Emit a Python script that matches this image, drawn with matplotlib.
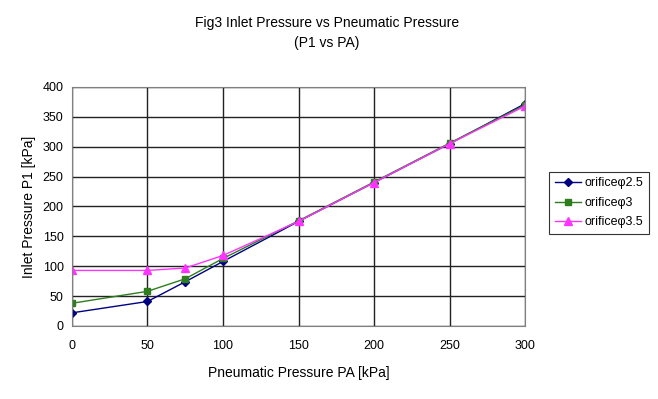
import matplotlib
matplotlib.use("Agg")
import matplotlib.pyplot as plt

plt.rcParams['font.family'] = ['Liberation Sans', 'DejaVu Sans']

pa = [0, 50, 75, 100, 150, 200, 250, 300]
p1_25 = [22, 41, 74, 108, 175, 240, 305, 372]
p1_3 = [38, 58, 79, 113, 176, 241, 306, 370]
p1_35 = [93, 93, 97, 118, 175, 240, 305, 368]

fig = plt.figure(figsize=(6.58, 3.99), dpi=100)
ax = fig.add_axes([0.1094, 0.183, 0.6885, 0.599])

ax.plot(pa, p1_25, color='#000080', marker='D', markersize=4, lw=1, label='orificeφ2.5')
ax.plot(pa, p1_3, color='#2E7D1E', marker='s', markersize=5, lw=1, label='orificeφ3')
ax.plot(pa, p1_35, color='#FF33FF', marker='^', markersize=6, lw=1, label='orificeφ3.5')

ax.set_xlim(0, 300)
ax.set_ylim(0, 400)
ax.set_xticks(range(0, 301, 50))
ax.set_yticks(range(0, 401, 50))
ax.grid(True, color='#222222', lw=1)
ax.set_axisbelow(True)
for s in ax.spines.values():
    s.set_color('#808080')
ax.tick_params(length=0, labelsize=9)
ax.tick_params(axis='x', pad=10)
ax.tick_params(axis='y', pad=6)

ax.set_xlabel('Pneumatic Pressure PA [kPa]', fontsize=10, labelpad=10)
ax.set_ylabel('Inlet Pressure P1 [kPa]', fontsize=10, labelpad=5)
fig.text(0.497, 0.943, 'Fig3 Inlet Pressure vs Pneumatic Pressure', ha='center', va='center', fontsize=10)
fig.text(0.497, 0.893, '(P1 vs PA)', ha='center', va='center', fontsize=10)

leg = ax.legend(loc='upper left', bbox_to_anchor=(1.053, 0.645), fontsize=9,
                frameon=True, fancybox=False, edgecolor='black', borderpad=0.45,
                handlelength=2.1, labelspacing=0.6, handletextpad=0.3, borderaxespad=0)
leg.get_frame().set_linewidth(0.8)

fig.savefig('out.png', dpi=100)
